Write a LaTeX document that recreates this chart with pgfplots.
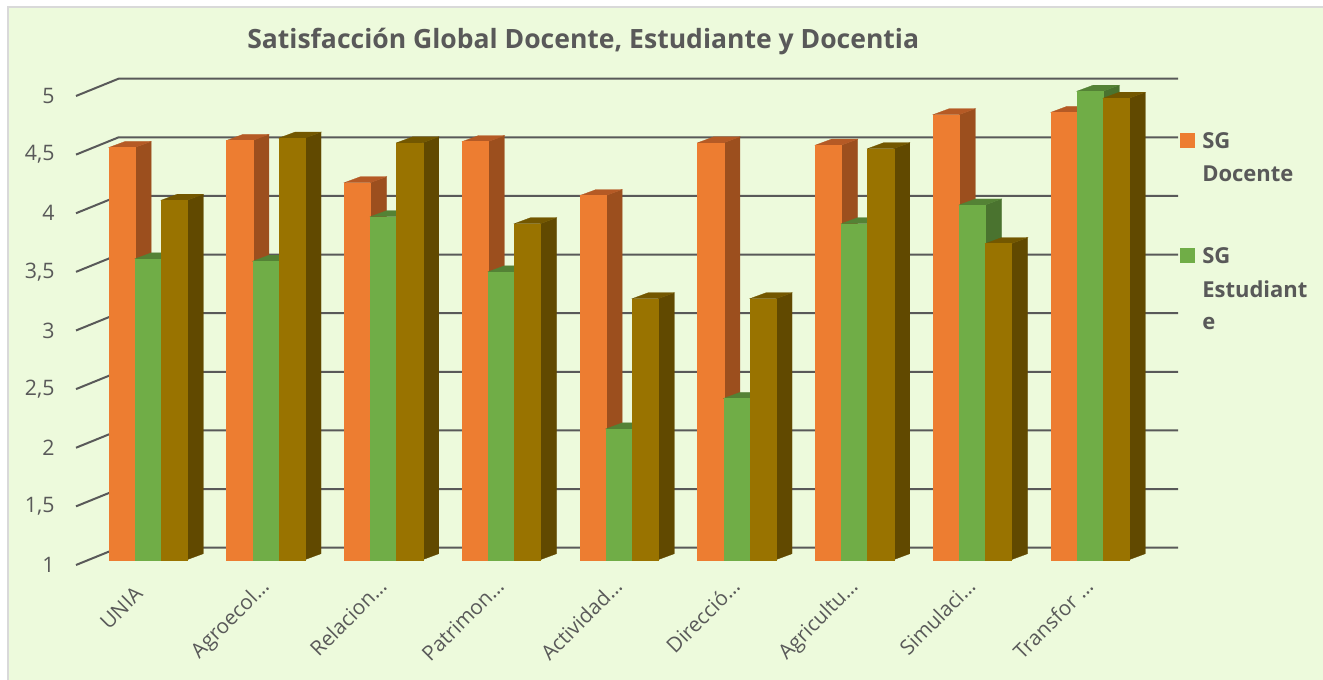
\documentclass[border=0pt]{standalone}
\usepackage{pgfplots}
\usepackage{fontspec}
\setmainfont{Open Sans}
\pgfplotsset{compat=1.18}
\definecolor{bgc}{HTML}{EDFADC}
\definecolor{edgec}{HTML}{D9D9D9}
\definecolor{txt}{HTML}{595959}
\definecolor{gridc}{HTML}{595959}
\definecolor{oF}{HTML}{ED7D31}
\definecolor{oS}{HTML}{9C4F1E}
\definecolor{oT}{HTML}{B55A25}
\definecolor{gF}{HTML}{70AD47}
\definecolor{gS}{HTML}{4A732F}
\definecolor{gT}{HTML}{548235}
\definecolor{bF}{HTML}{997300}
\definecolor{bS}{HTML}{614900}
\definecolor{bT}{HTML}{735700}
\newcommand{\cuboid}[4]{% category, slot, value, colour prefix
  \edef\L{\fpeval{#1+(#2*26.1-39.15)/117.75}}%
  \edef\R{\fpeval{#1+(#2*26.1-13.05)/117.75}}%
  \edef\LD{\fpeval{\L+16.2/117.75}}%
  \edef\RD{\fpeval{\R+16.2/117.75}}%
  \edef\B{\fpeval{1+5.3/117.25}}%
  \edef\BD{\fpeval{\B+6/117.25}}%
  \edef\T{\fpeval{#3+4.8/117.25}}%
  \edef\TD{\fpeval{\T+6/117.25}}%
  \edef\tmp{%
    \noexpand\addplot[fill=#4S,draw=#4S,line width=0.2pt] coordinates {(\R,\B) (\RD,\BD) (\RD,\TD) (\R,\T)} --cycle;
    \noexpand\addplot[fill=#4T,draw=#4T,line width=0.2pt] coordinates {(\L,\T) (\LD,\TD) (\RD,\TD) (\R,\T)} --cycle;
    \noexpand\addplot[fill=#4F,draw=#4F,line width=0.2pt] coordinates {(\L,\B) (\L,\T) (\R,\T) (\R,\B)} --cycle;
  }\tmp
}
\newcommand{\wall}[1]{%
  \edef\V{\fpeval{#1+17.25/117.25}}%
  \edef\tmp{\noexpand\addplot[gridc,line width=1.5pt] coordinates {(-0.6115,#1) (-0.2505,\V) (8.7473,\V)};}\tmp
}
\begin{document}
\begin{tikzpicture}
\path[use as bounding box] (0,0) rectangle (992.25pt,510pt);
\fill[white] (0,0) rectangle (992.25pt,510pt);
\fill[bgc] (6pt,0) rectangle (992.25pt,504.75pt);
\draw[edgec,line width=1pt] (6pt,0) -- (6pt,504.75pt) -- (992.25pt,504.75pt);
\begin{axis}[
  at={(57pt,86.25pt)}, anchor=south west,
  x=88.3125pt, y=87.9375pt,
  xmin=-0.6115, xmax=8.7473, ymin=1, ymax=5.2,
  clip=false,
  axis line style={draw=none},
  major tick length=0pt,
  xtick={0,1,2,3,4,5,6,7,8},
  xticklabels={UNIA\rule{8.5pt}{0pt},Agroecol…,Relacion…,Patrimon…,Actividad…,Direcció…,Agricultu…,Simulaci…,Transfor …},
  xticklabel style={rotate=45,anchor=north east,font=\fontsize{15.5pt}{18pt}\selectfont,text=txt,xshift=-6.45pt,yshift=0.6pt},
  ytick={1,1.5,2,2.5,3,3.5,4,4.5,5},
  yticklabels={1,{1,5},2,{2,5},3,{3,5},4,{4,5},5},
  yticklabel style={anchor=east,font=\fontsize{16pt}{18pt}\selectfont,text=txt,xshift=-12.5pt},
]
\wall{1}\wall{1.5}\wall{2}\wall{2.5}\wall{3}\wall{3.5}\wall{4}\wall{4.5}\wall{5}
\cuboid{0}{0}{4.52}{o}\cuboid{0}{1}{3.57}{g}\cuboid{0}{2}{4.07}{b}
\cuboid{1}{0}{4.58}{o}\cuboid{1}{1}{3.55}{g}\cuboid{1}{2}{4.60}{b}
\cuboid{2}{0}{4.22}{o}\cuboid{2}{1}{3.93}{g}\cuboid{2}{2}{4.56}{b}
\cuboid{3}{0}{4.57}{o}\cuboid{3}{1}{3.46}{g}\cuboid{3}{2}{3.87}{b}
\cuboid{4}{0}{4.11}{o}\cuboid{4}{1}{2.12}{g}\cuboid{4}{2}{3.23}{b}
\cuboid{5}{0}{4.56}{o}\cuboid{5}{1}{2.38}{g}\cuboid{5}{2}{3.23}{b}
\cuboid{6}{0}{4.54}{o}\cuboid{6}{1}{3.87}{g}\cuboid{6}{2}{4.51}{b}
\cuboid{7}{0}{4.80}{o}\cuboid{7}{1}{4.03}{g}\cuboid{7}{2}{3.70}{b}
\cuboid{8}{0}{4.82}{o}\cuboid{8}{1}{5.00}{g}\cuboid{8}{2}{4.94}{b}
\end{axis}
% title
\node[anchor=base west,inner sep=0pt,text=txt,font=\fontsize{19.9pt}{24pt}\selectfont\bfseries] at (185.25pt,473.5pt) {Satisfacción Global Docente, Estudiante y Docentia};
% legend
\fill[oF] (885pt,399pt) rectangle (896.25pt,410.25pt);
\fill[gF] (885pt,312.75pt) rectangle (896.25pt,324pt);
\tikzset{leg/.style={anchor=base west,inner sep=0pt,text=txt,font=\fontsize{16.5pt}{20pt}\selectfont\bfseries}}
\node[leg] at (901.5pt,398.5pt) {SG};
\node[leg] at (901.5pt,374pt) {Docente};
\node[leg] at (901.5pt,312.25pt) {SG};
\node[leg] at (901.5pt,287pt) {Estudiant};
\node[leg] at (901.5pt,262.75pt) {e};
\end{tikzpicture}
\end{document}
